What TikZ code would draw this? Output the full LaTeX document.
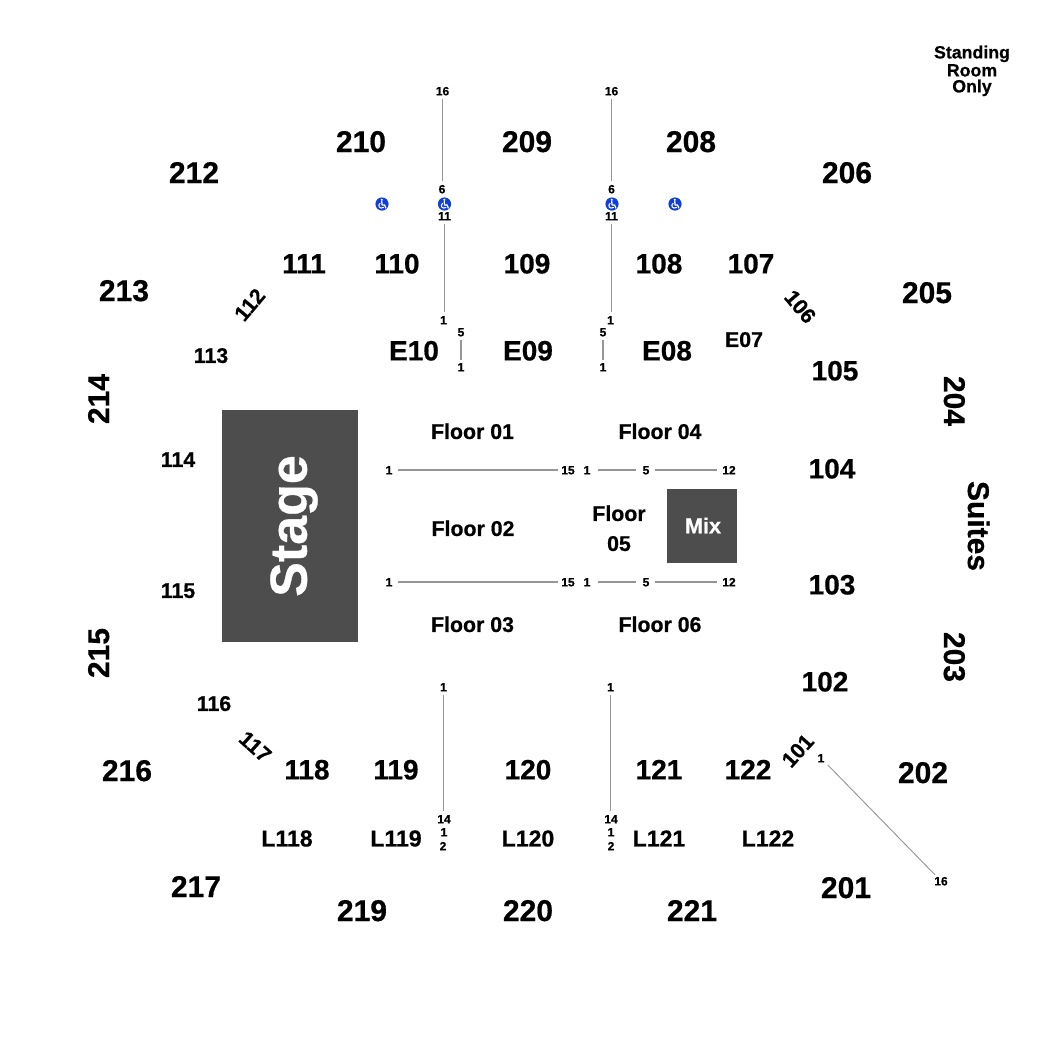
\documentclass[tikz,border=0pt]{standalone}
\usepackage{fontspec}
\setmainfont{Liberation Sans}[BoldFeatures={FakeBold=0.6}]
\definecolor{blockgray}{HTML}{4D4D4D}
\definecolor{seatline}{HTML}{969696}
\definecolor{accblue}{HTML}{0F3FD8}
\newcommand{\fsz}[1]{\fontsize{#1}{#1}\selectfont\bfseries}
\tikzset{
  x=0.75pt,y=-0.75pt,
  lbl/.style={inner sep=0pt,outer sep=0pt,anchor=center,align=center,text=black,text depth=0pt},
  bigtxt/.style={lbl,font=\fsz{22.5},text height=15pt},
  medtxt/.style={lbl,font=\fsz{21},text height=14.1pt},
  ltxt/.style={lbl,font=\fsz{17.3},text height=11.2pt},
  sectxt/.style={lbl,font=\fsz{16},text height=10.4pt},
  flrtxt/.style={lbl,font=\fsz{16},text height=10.4pt},
  srotxt/.style={lbl,font=\fsz{13.3},text height=9.6pt},
  seattxt/.style={lbl,font=\fsz{9},text height=6.5pt},
  block/.style={fill=blockgray,draw=none,inner sep=0pt,outer sep=0pt},
  seat/.style={draw=seatline,line width=0.85pt},
  vseat/.style={seat,shorten <=2.5pt,shorten >=2.5pt},
  acc/.pic={
    \fill[accblue] (0,0) circle[radius=6.6];
    \fill[white] (-0.2,-4.2) circle[radius=1.2];
    \draw[white,line width=0.95pt,line cap=round,line join=round] (-0.2,-2.6) -- (0,1) -- (2.6,1) -- (3.8,4);
    \draw[white,line width=0.8pt] (-1.7,-0.8) .. controls (-5,1) and (-2.4,6) .. (1.8,3.4);
  }
}
\begin{document}
\begin{tikzpicture}
\useasboundingbox (0,0) rectangle (1050,1050);
% blocks
\node[block,minimum width=102pt,minimum height=174pt] (stage) at (290,526) {};
\node[block,minimum width=52.5pt,minimum height=55.5pt] (mix) at (702,526) {};
\node[lbl,text=white,font=\fsz{39},text height=28pt,rotate=90] (stagetxt) at (288,526) {Stage};
\node[lbl,text=white,font=\fsz{16.2},text height=11.7pt] (mixtxt) at (703,525.5) {Mix};
% upper deck
\foreach \n/\px/\py in {210/361/142,209/527/142,208/691/142,212/194/173,206/847/173,213/124/291,205/927/293,216/127/771,202/923/773,217/196/887,201/846/888,219/362/911,220/528/911,221/692/911}
  \node[bigtxt] (s\n) at (\px,\py) {\n};
\node[bigtxt,rotate=90] (s214) at (99,399) {214};
\node[bigtxt,rotate=90] (s215) at (99,653) {215};
\node[bigtxt,rotate=-90] (s204) at (954,401) {204};
\node[bigtxt,rotate=-90] (s203) at (954,657) {203};
\node[bigtxt,rotate=-90] (suites) at (978,526) {Suites};
% lower bowl
\foreach \n/\px/\py in {111/304/264,110/397/264,109/527/264,108/659/264,107/751/264,105/835/371,104/832/469,103/832/585,102/825/682,118/307/770,119/396/770,120/528/770,121/659/770,122/748/770,E10/414/351,E09/528/351,E08/667/351}
  \node[medtxt] (s\n) at (\px,\py) {\n};
\foreach \n/\px/\py in {L118/287/839,L119/396/839,L120/528/839,L121/659/839,L122/768/839}
  \node[ltxt] (s\n) at (\px,\py) {\n};
\foreach \n/\px/\py in {113/211/356,114/178/460,115/178/591,116/214/704,E07/744/340}
  \node[sectxt] (s\n) at (\px,\py) {\n};
\node[sectxt,rotate=50] (s112) at (250,305) {112};
\node[sectxt,rotate=-50] (s106) at (800,307) {106};
\node[sectxt,rotate=-42] (s117) at (255,747) {117};
\node[sectxt,rotate=48] (s101) at (798,751) {101};
% floor
\node[flrtxt] (f1) at (472.5,432) {Floor 01};
\node[flrtxt] (f2) at (473,529) {Floor 02};
\node[flrtxt] (f3) at (472.5,625) {Floor 03};
\node[flrtxt] (f4) at (660,432) {Floor 04};
\node[flrtxt] (f6) at (660,625) {Floor 06};
\node[flrtxt] (f5a) at (619,514) {Floor};
\node[flrtxt] (f5b) at (619,544) {05};
\node[srotxt] (sro1) at (972,52) {Standing};
\node[srotxt] (sro2) at (972,70) {Room};
\node[srotxt] (sro3) at (972,86) {Only};
% seat labels
\foreach \n/\t/\px/\py in {a/16/442.5/91,b/6/442/189,c/11/444.5/216,d/1/443.5/320,e/16/611.5/91,g/6/611.5/189,h/11/611.5/216,i/1/610.5/320,
  j/5/461/332,k/1/461/367,l/5/603/332,m/1/603/367,
  fa/1/389/470,fb/15/568/470,fc/1/587/470,fd/5/646/470,fe/12/729/470,
  ga/1/389/582,gb/15/568/582,gc/1/587/582,gd/5/646/582,ge/12/729/582,
  n/1/443.5/687,o/14/444/819,p/1/444/832,q/2/443/846,r/1/610.5/687,t/14/611/819,u/1/611/832,v/2/611/846,
  w/1/821/758,y/16/941/881}
  \node[seattxt] (n\n) at (\px,\py) {\t};
% accessible icons
\pic at (382,204) {acc};
\pic at (444.5,204) {acc};
\pic at (612,204) {acc};
\pic at (675,204) {acc};
% vertical seat lines
\draw[vseat] (na.south) -- (na.south |- nb.north);
\draw[vseat] (nc.south) -- (nc.south |- nd.north);
\draw[vseat] (ne.south) -- (ne.south |- ng.north);
\draw[vseat] (nh.south) -- (nh.south |- ni.north);
\draw[seat,shorten <=2.5pt,shorten >=2pt] (nj.south) -- (nk.north);
\draw[seat,shorten <=2.5pt,shorten >=2pt] (nl.south) -- (nm.north);
\draw[vseat] (nn.south) -- (nn.south |- no.north);
\draw[vseat] (nr.south) -- (nr.south |- nt.north);
% horizontal seat lines
\foreach \r in {f,g}{
  \draw[seat,shorten <=4pt,shorten >=2.6pt] (n\r a) -- (n\r b);
  \draw[seat,shorten <=5.5pt,shorten >=5pt] (n\r c) -- (n\r d);
  \draw[seat,shorten <=4pt,shorten >=3.7pt] (n\r d) -- (n\r e);
}
% diagonal seat line
\draw[seat,line width=0.7pt,shorten <=3.7pt,shorten >=2pt] (nw) -- (ny);
\end{tikzpicture}
\end{document}
